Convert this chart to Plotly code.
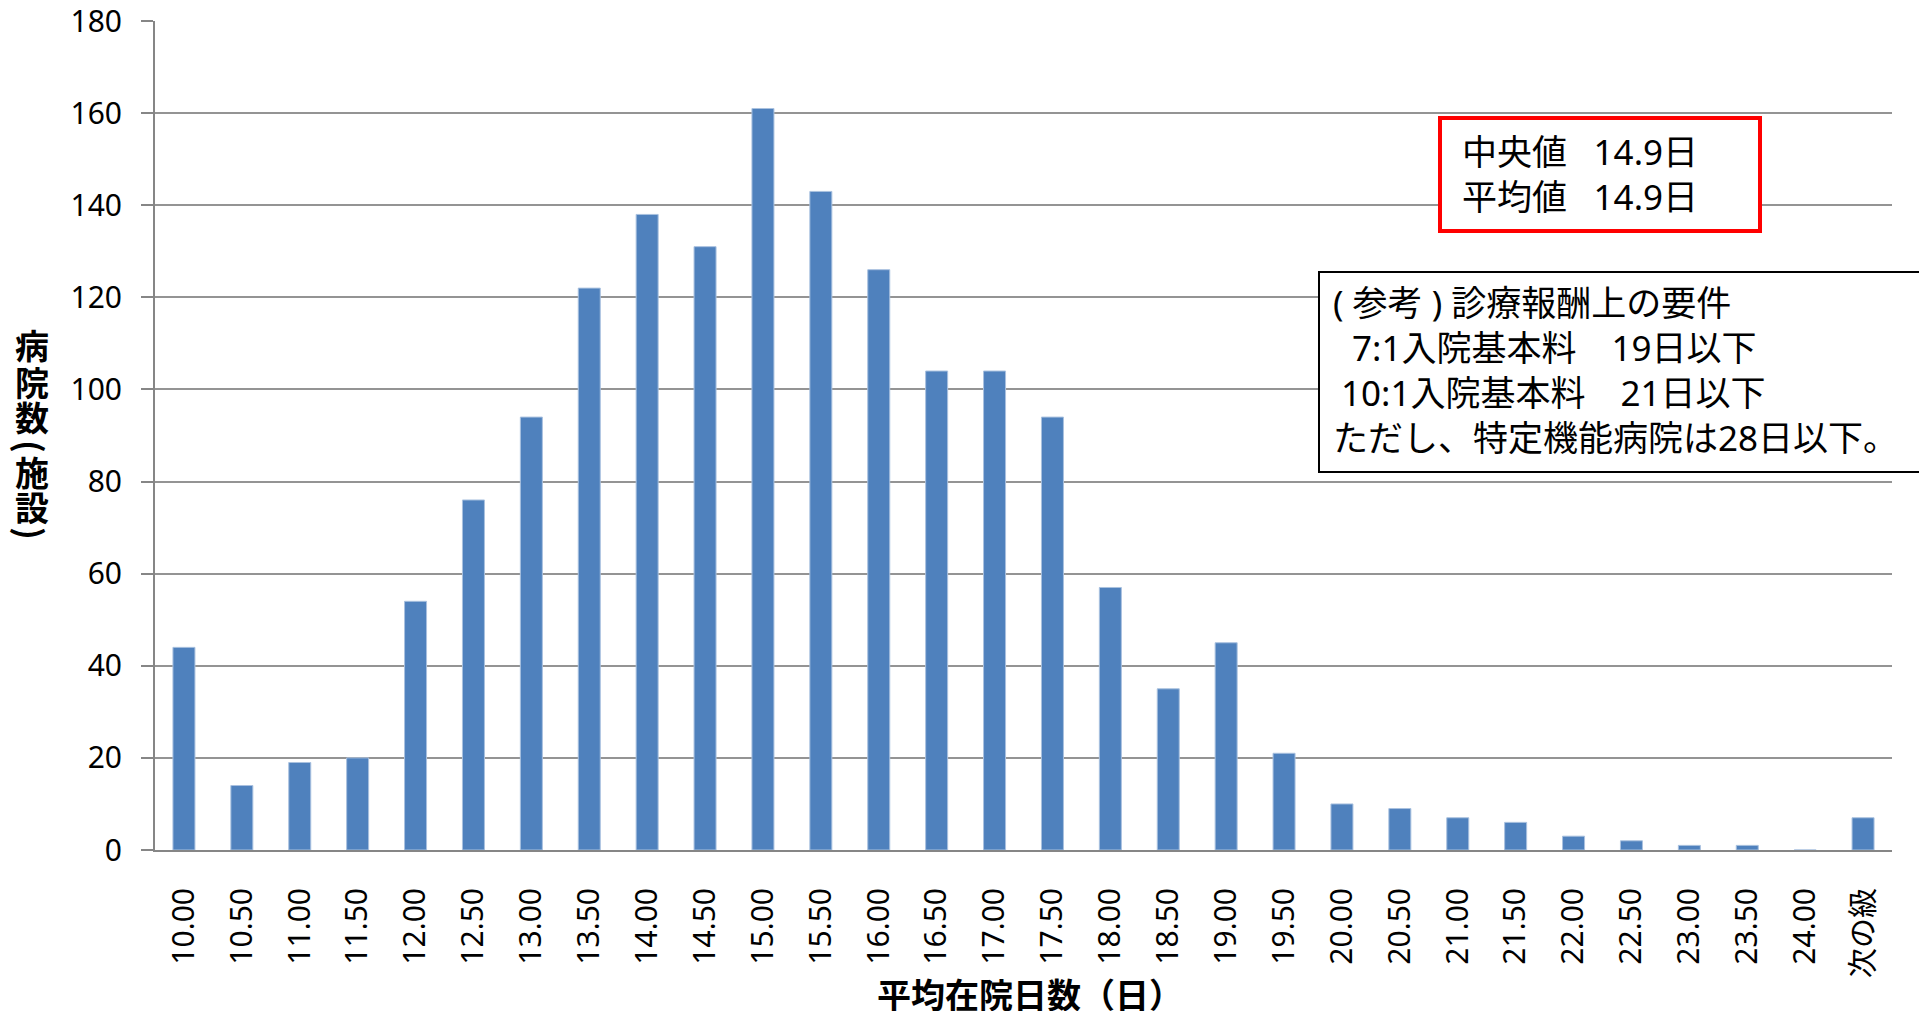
"""Histogram of average length of hospital stay (平均在院日数) per hospital."""

import plotly.graph_objects as go

# categories (bin labels) and hospital counts
CATEGORIES = [
    "10.00", "10.50", "11.00", "11.50", "12.00", "12.50", "13.00", "13.50",
    "14.00", "14.50", "15.00", "15.50", "16.00", "16.50", "17.00", "17.50",
    "18.00", "18.50", "19.00", "19.50", "20.00", "20.50", "21.00", "21.50",
    "22.00", "22.50", "23.00", "23.50", "24.00", "次の級",
]
COUNTS = [
    44, 14, 19, 20, 54, 76, 94, 122,
    138, 131, 161, 143, 126, 104, 104, 94,
    57, 35, 45, 21, 10, 9, 7, 6,
    3, 2, 1, 1, 0, 7,
]
Y_TICKS = [0, 20, 40, 60, 80, 100, 120, 140, 160, 180]

X_TITLE = "平均在院日数（日）"
# vertical y title; parentheses are drawn rotated
Y_TITLE_CHARS = ["病", "院", "数", "(", "施", "設", ")"]

SUMMARY_LINES = ["中央値\u2002 14.9日", "平均値\u2002 14.9日"]
NOTE_LINES = [
    "( 参考 ) 診療報酬上の要件",
    "7:1入院基本料\u300019日以下",
    "10:1入院基本料\u300021日以下",
    "ただし、特定機能病院は28日以下。",
]

BAR_COLOR = "#4F81BD"
GRID_COLOR = "#949494"
AXIS_COLOR = "#868686"
CJK = "Noto Sans CJK JP"
LATIN = "Noto Sans, Noto Sans CJK JP"

# page is drawn with an 8px body margin; plot area in page pixels
PAGE_W, PAGE_H, OFF = 1927, 1019, 8
PL, PR, PT, PB = 155, 1892, 21, 850
PW, PH = PR - PL, PB - PT
W, H = PAGE_W - 2 * OFF, PAGE_H - 2 * OFF


def px_x(x):
    return (x - PL) / PW


def px_y(y):
    return (PB - y) / PH


fig = go.Figure()
fig.add_trace(go.Bar(
    x=CATEGORIES, y=COUNTS,
    marker=dict(color=BAR_COLOR, line=dict(color="#a9c1df", width=1)),
    hoverinfo="x+y",
))

annotations = []
y_title_pos = [344, 381, 416, 446, 471, 507, 533]
for ch, py in zip(Y_TITLE_CHARS, y_title_pos):
    is_paren = ch in "()"
    annotations.append(dict(
        text=f"<b>{ch}</b>", x=px_x(32), y=px_y(py), xref="paper", yref="paper",
        xanchor="center", yanchor="middle", showarrow=False,
        textangle=90 if is_paren else 0,
        font=dict(family=CJK, size=34, color="black"),
    ))

annotations.append(dict(
    text=f"<b>{X_TITLE}</b>", x=px_x(1030), y=px_y(994), xref="paper", yref="paper",
    xanchor="center", yanchor="middle", showarrow=False,
    font=dict(family=CJK, size=34, color="black"),
))

for line, py in zip(SUMMARY_LINES, [152, 196]):
    annotations.append(dict(
        text=line, x=px_x(1460), y=px_y(py), xref="paper", yref="paper",
        xanchor="left", yanchor="middle", showarrow=False,
        font=dict(family=LATIN, size=35, color="black"),
    ))

for line, lx, py in zip(NOTE_LINES, [1331, 1350, 1339, 1331], [302, 347, 392, 437]):
    annotations.append(dict(
        text=line, x=px_x(lx), y=px_y(py), xref="paper", yref="paper",
        xanchor="left", yanchor="middle", showarrow=False,
        font=dict(family=LATIN, size=35, color="black"),
    ))

shapes = [
    dict(type="rect", xref="paper", yref="paper",
         x0=px_x(1440), x1=px_x(1760), y0=px_y(231), y1=px_y(118),
         line=dict(color="#FF0000", width=4), fillcolor="white", layer="above"),
    dict(type="rect", xref="paper", yref="paper",
         x0=px_x(1319), x1=px_x(1924), y0=px_y(472), y1=px_y(272),
         line=dict(color="black", width=2), fillcolor="white", layer="above"),
]

fig.update_layout(
    width=W, height=H,
    margin=dict(l=PL - OFF, r=W - (PR - OFF), t=PT - OFF, b=H - (PB - OFF)),
    paper_bgcolor="white", plot_bgcolor="white",
    bargap=0.62,
    showlegend=False,
    font=dict(family=LATIN, size=30, color="black"),
    xaxis=dict(
        type="category",
        automargin=False,
        tickangle=-90,
        ticks="",
        ticklabelstandoff=24,
        showline=True, linecolor=AXIS_COLOR, linewidth=2,
        showgrid=False,
        tickfont=dict(family=LATIN, size=30, color="black"),
    ),
    yaxis=dict(
        range=[0, 180],
        automargin=False,
        tickvals=Y_TICKS,
        ticks="outside", ticklen=12, tickcolor=AXIS_COLOR, tickwidth=2,
        ticklabelstandoff=13,
        ticklabeloverflow="allow",
        showline=True, linecolor=AXIS_COLOR, linewidth=2,
        showgrid=True, gridcolor=GRID_COLOR, gridwidth=2,
        zeroline=False,
        tickfont=dict(family=LATIN, size=30, color="black"),
    ),
    shapes=shapes,
    annotations=annotations,
)

fig.write_html("out.html")
